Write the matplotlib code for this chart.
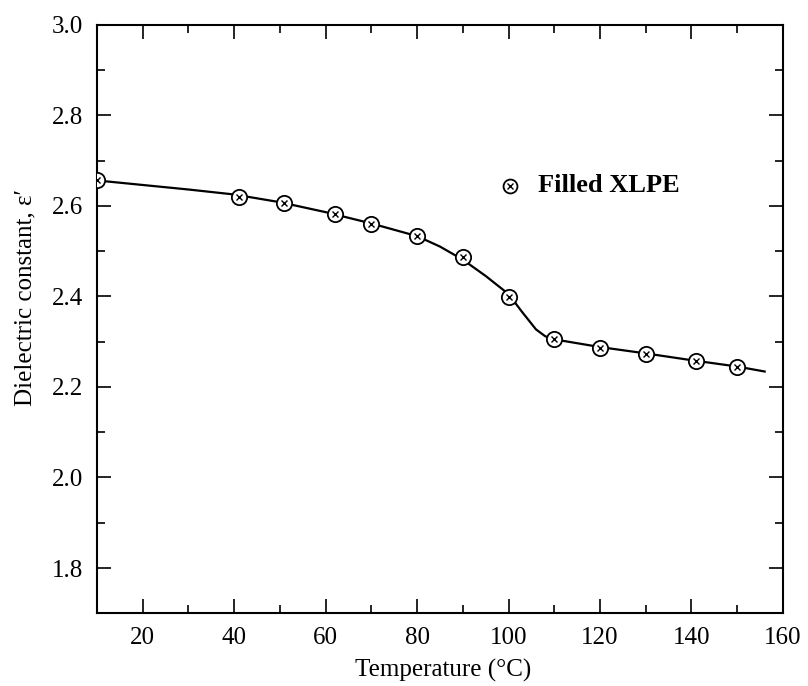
import matplotlib
matplotlib.use("Agg")
import matplotlib.pyplot as plt
from matplotlib.ticker import MultipleLocator, FormatStrFormatter

# ---------- DATA ----------
temp_pts = [10, 41, 51, 62, 70, 80, 90, 100, 110, 120, 130, 141, 150]
eps_pts = [2.656, 2.620, 2.607, 2.582, 2.560, 2.534, 2.487, 2.398, 2.306, 2.287, 2.273, 2.258, 2.244]

# hand-drawn fit line through the points
temp_fit = [10, 20, 30, 40, 50, 60, 70, 80, 85, 90, 95, 100, 103, 106, 108, 110, 120, 130, 140, 150, 156]
eps_fit = [2.656, 2.646, 2.636, 2.625, 2.608, 2.586, 2.561, 2.533, 2.510, 2.481, 2.445, 2.405,
           2.365, 2.327, 2.312, 2.305, 2.288, 2.274, 2.259, 2.245, 2.234]

series_label = "Filled XLPE"

# ---------- PLOT ----------
plt.rcParams["font.family"] = ["Liberation Serif", "DejaVu Serif"]

fig = plt.figure(figsize=(8.08, 6.86), dpi=100)
ax = fig.add_axes([0.120, 0.106, 0.849, 0.858])

ax.plot(temp_fit, eps_fit, color="black", lw=1.6, zorder=2)
ax.plot(temp_pts, eps_pts, ls="none", marker="o", ms=11, mfc="white", mec="black", mew=1.3, zorder=3)
ax.plot(temp_pts, eps_pts, ls="none", marker="x", ms=5, mec="black", mew=1.0, zorder=4)

# legend drawn as marker + text like the original
ax.plot([100.3], [2.644], ls="none", marker="o", ms=10, mfc="white", mec="black", mew=1.3)
ax.plot([100.3], [2.644], ls="none", marker="x", ms=4.5, mec="black", mew=1.0)
ax.text(106.5, 2.644, series_label, fontsize=19, fontweight="bold", va="center", ha="left")

ax.set_xlim(10, 160)
ax.set_ylim(1.7, 3.0)
ax.set_xticks([20, 40, 60, 80, 100, 120, 140, 160])
ax.xaxis.set_minor_locator(MultipleLocator(10))
ax.yaxis.set_major_locator(MultipleLocator(0.2))
ax.yaxis.set_minor_locator(MultipleLocator(0.1))
ax.yaxis.set_major_formatter(FormatStrFormatter("%.1f"))

ax.tick_params(which="both", direction="in", top=True, right=True, width=1.2, labelsize=18, pad=10)
ax.tick_params(which="major", length=10)
ax.tick_params(which="minor", length=6)
for s in ax.spines.values():
    s.set_linewidth(1.5)

ax.set_xlabel("Temperature (°C)", fontsize=18)
ax.set_ylabel("Dielectric constant, ε′", fontsize=18)
ax.xaxis.set_label_coords(0.505, -0.077)
ax.yaxis.set_label_coords(-0.088, 0.536)

fig.savefig("out.png", dpi=100)
